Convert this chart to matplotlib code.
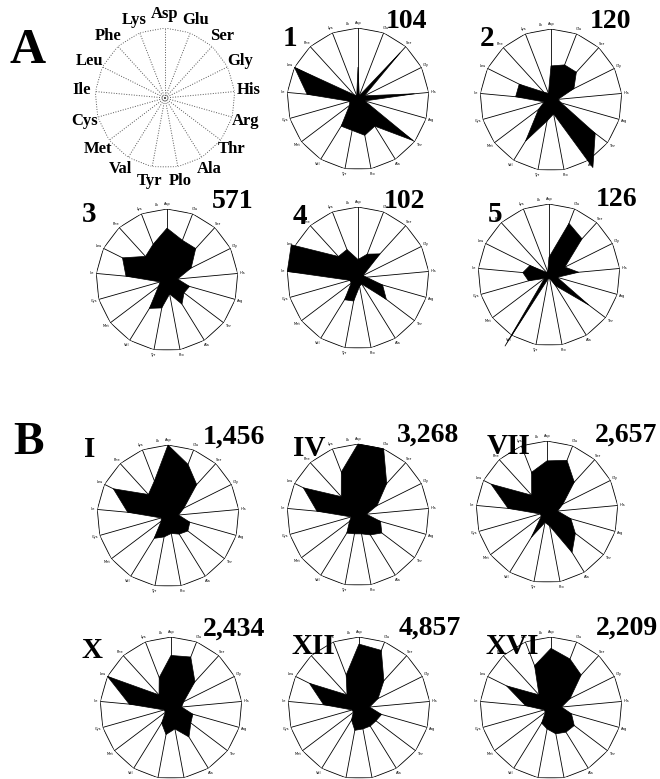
import numpy as np
import matplotlib
matplotlib.use("Agg")
import matplotlib.pyplot as plt

W, H = 660, 779

# amino acids, clockwise from the top
aa = ["Asp", "Glu", "Ser", "Gly", "His", "Arg", "Thr", "Ala", "Pro",
      "Tyr", "Val", "Met", "Cys", "Ile", "Leu", "Phe", "Lys"]
key_labels = ["Asp", "Glu", "Ser", "Gly", "His", "Arg", "Thr", "Ala", "Plo",
              "Tyr", "Val", "Met", "Cys", "Ile", "Leu", "Phe", "Lys"]

# relative frequency, fraction of the outer radius
c1 = [0.45, 0.05, 0.88, 0.10, 0.80, 0.10, 0.97, 0.45, 0.52, 0.45, 0.45, 0.15, 0.12, 0.72, 1.00, 0.08, 0.05]
c2 = [0.48, 0.53, 0.53, 0.36, 0.10, 0.15, 0.78, 1.12, 0.20, 0.30, 0.68, 0.22, 0.10, 0.50, 0.50, 0.15, 0.10]
c3 = [0.73, 0.60, 0.60, 0.38, 0.15, 0.33, 0.30, 0.40, 0.20, 0.40, 0.47, 0.15, 0.10, 0.58, 0.70, 0.45, 0.54]
c4 = [0.26, 0.36, 0.46, 0.08, 0.12, 0.36, 0.50, 0.10, 0.12, 0.33, 0.36, 0.12, 0.12, 1.00, 1.05, 0.41, 0.43]
c5 = [0.25, 0.78, 0.69, 0.25, 0.42, 0.12, 0.70, 0.18, 0.05, 0.05, 1.18, 0.08, 0.30, 0.37, 0.30, 0.05, 0.05]
cI = [1.00, 0.78, 0.60, 0.25, 0.15, 0.32, 0.35, 0.30, 0.25, 0.30, 0.37, 0.12, 0.10, 0.57, 0.86, 0.41, 0.53]
cIV = [1.00, 1.00, 0.60, 0.30, 0.12, 0.33, 0.42, 0.33, 0.27, 0.27, 0.30, 0.15, 0.10, 0.58, 0.86, 0.35, 0.65]
cVII = [0.72, 0.78, 0.57, 0.25, 0.15, 0.35, 0.50, 0.67, 0.20, 0.15, 0.42, 0.10, 0.10, 0.55, 0.88, 0.32, 0.60]
cX = [0.74, 0.77, 0.50, 0.20, 0.15, 0.32, 0.35, 0.48, 0.30, 0.38, 0.25, 0.10, 0.10, 0.59, 1.00, 0.25, 0.46]
cXII = [0.90, 0.87, 0.52, 0.30, 0.15, 0.33, 0.30, 0.30, 0.30, 0.32, 0.20, 0.10, 0.10, 0.50, 0.78, 0.25, 0.50]
cXVI = [0.84, 0.74, 0.63, 0.30, 0.15, 0.30, 0.41, 0.40, 0.37, 0.30, 0.25, 0.10, 0.10, 0.36, 0.70, 0.25, 0.64]

names = ["1", "2", "3", "4", "5", "I", "IV", "VII", "X", "XII", "XVI"]
counts = ["104", "120", "571", "102", "126", "1,456", "3,268", "2,657", "2,434", "4,857", "2,209"]
series = [c1, c2, c3, c4, c5, cI, cIV, cVII, cX, cXII, cXVI]

# chart centres / radius in pixels
centers = [(358, 99), (551, 100), (167, 280), (358, 278), (549, 275),
           (168, 516), (358, 515), (547, 512), (171, 708), (359, 708), (551, 708)]
R = 71
name_pos = [(290, 39), (487, 39), (89, 215), (300, 216), (495, 214),
            (90, 450), (309, 448), (509, 446), (92, 650), (313, 647), (512, 646)]
count_pos = [(407, 22), (610, 21), (233, 202), (405, 202), (617, 200),
             (234, 437), (428, 435), (626, 435), (234, 629), (430, 628), (627, 628)]

serif = "Liberation Serif"
fig = plt.figure(figsize=(W / 100, H / 100), dpi=100)
fig.patch.set_facecolor("white")

theta = np.arange(len(aa)) * 2 * np.pi / len(aa)
tc = np.append(theta, theta[0])


def radar_ax(cx, cy, r):
    ax = fig.add_axes([(cx - r) / W, 1 - (cy + r) / H, 2 * r / W, 2 * r / H],
                      projection="polar")
    ax.set_theta_zero_location("N")
    ax.set_theta_direction(-1)
    ax.set_ylim(0, 1)
    ax.set_xticks([])
    ax.set_yticks([])
    ax.grid(False)
    ax.spines["polar"].set_visible(False)
    ax.patch.set_alpha(0)
    return ax


def fx(x, y):
    return x / W, 1 - y / H


# key chart
ax = radar_ax(165, 98, 70)
for t in theta:
    ax.plot([t, t], [0, 1], color="#555555", lw=0.7, ls=(0, (1, 1.6)))
ax.plot(tc, np.ones(len(tc)), color="#555555", lw=0.7, ls=(0, (1, 1.6)))
for t, lab in zip(theta, key_labels):
    ax.text(t, 1.2, lab, ha="center", va="center", fontsize=12,
            family=serif, weight="bold", clip_on=False)

# data charts
for vals, (cx, cy) in zip(series, centers):
    ax = radar_ax(cx, cy, R)
    for t in theta:
        ax.plot([t, t], [0, 1], color="black", lw=0.6)
    ax.plot(tc, np.ones(len(tc)), color="black", lw=0.6)
    v = np.append(vals, vals[0])
    ax.fill(tc, v, color="black", lw=0.5, clip_on=False, zorder=3)
    for t, lab in zip(theta, aa):
        ax.text(t, 1.07, lab, ha="center", va="center", fontsize=2.6, clip_on=False)
    ax.text(np.deg2rad(-8), 1.06, "Lk", ha="center", va="center", fontsize=2.6, clip_on=False)

for lab, (x, y) in zip(names, name_pos):
    fig.text(*fx(x, y), lab, ha="center", va="center", fontsize=21,
             family=serif, weight="bold")
for lab, (x, y) in zip(counts, count_pos):
    fig.text(*fx(x, y), lab, ha="center", va="center", fontsize=20,
             family=serif, weight="bold")

fig.text(*fx(28, 51), "A", ha="center", va="center", fontsize=36, family=serif, weight="bold")
fig.text(*fx(28, 443), "B", ha="center", va="center", fontsize=33, family=serif, weight="bold")

fig.savefig("out.png", dpi=100)
